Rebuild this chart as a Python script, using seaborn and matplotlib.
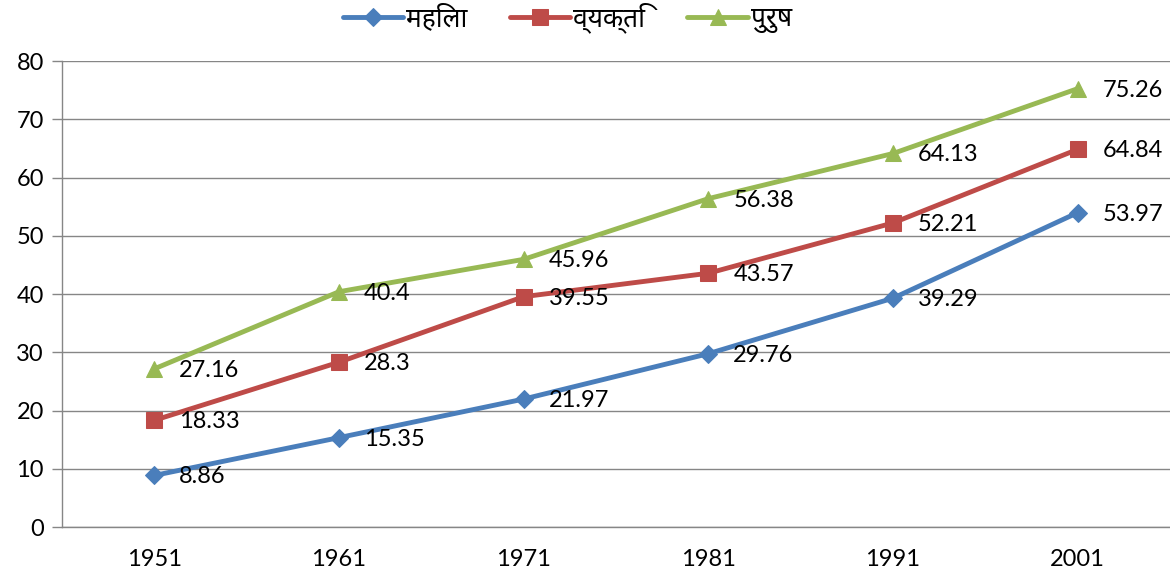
import matplotlib
matplotlib.use("Agg")
import matplotlib.pyplot as plt
import seaborn as sns
import pandas as pd
import numpy as np

sns.set_theme(style="white")
plt.rcParams['font.family'] = ['Lato', 'Noto Sans', 'DejaVu Sans']

years = ["1951", "1961", "1971", "1981", "1991", "2001"]
mahila = [8.86, 15.35, 21.97, 29.76, 39.29, 53.97]
vyakti = [18.33, 28.3, 39.55, 43.57, 52.21, 64.84]
purush = [27.16, 40.4, 45.96, 56.38, 64.13, 75.26]
series_names = ["महिला", "व्यक्ति", "पुरुष"]
label_texts = {
    "महिला": ["8.86", "15.35", "21.97", "29.76", "39.29", "53.97"],
    "व्यक्ति": ["18.33", "28.3", "39.55", "43.57", "52.21", "64.84"],
    "पुरुष": ["27.16", "40.4", "45.96", "56.38", "64.13", "75.26"],
}

colors = ["#4A7EBB", "#BE4B48", "#98B954"]
markers = ["D", "s", "^"]
msizes = [9, 11, 12]

df = pd.DataFrame({
    "year": years * 3,
    "value": mahila + vyakti + purush,
    "series": [series_names[0]] * 6 + [series_names[1]] * 6 + [series_names[2]] * 6,
})
df["x"] = df["year"].map({y: i for i, y in enumerate(years)})

fig = plt.figure(figsize=(11.7, 5.76), dpi=100)
ax = fig.add_axes([0.053, 0.085, 0.947, 0.809])

for i, name in enumerate(series_names):
    sub = df[df["series"] == name]
    sns.lineplot(data=sub, x="x", y="value", ax=ax, color=colors[i], linewidth=3.5,
                 marker=markers[i], markersize=msizes[i], markeredgecolor=colors[i],
                 label=name)
    for xv, yv, t in zip(sub["x"], sub["value"], label_texts[name]):
        ax.annotate(t, (xv, yv), xytext=(18, -1), textcoords="offset points",
                    ha="left", va="center", fontsize=17, color="black")

ax.set_xlim(-0.5, 5.5)
ax.set_ylim(0, 80)
ax.set_yticks(range(0, 81, 10))
ax.set_xticks(range(6))
ax.set_xticklabels(years)
ax.set_xticks(np.arange(-0.5, 6, 1), minor=True)
ax.tick_params(axis="x", which="major", length=0, labelsize=17, pad=16, labelcolor="black")
ax.tick_params(axis="x", which="minor", length=7, color="#868686", width=1, direction="out")
ax.tick_params(axis="y", length=7, color="#868686", width=1, labelsize=17, left=True,
               direction="out", labelcolor="black", pad=6)
ax.set_xlabel("")
ax.set_ylabel("")
ax.grid(axis="y", color="#868686", linewidth=1)
ax.set_axisbelow(True)
for s in ["top", "right"]:
    ax.spines[s].set_visible(False)
for s in ["left", "bottom"]:
    ax.spines[s].set_color("#868686")
    ax.spines[s].set_linewidth(1)

ax.legend(loc="center", bbox_to_anchor=(0.456, 1.094), ncol=3, frameon=False,
          fontsize=19, handlelength=2.3, columnspacing=1.6, handletextpad=0.1,
          labelcolor="black", borderpad=0)

fig.savefig("out.png", dpi=100)
